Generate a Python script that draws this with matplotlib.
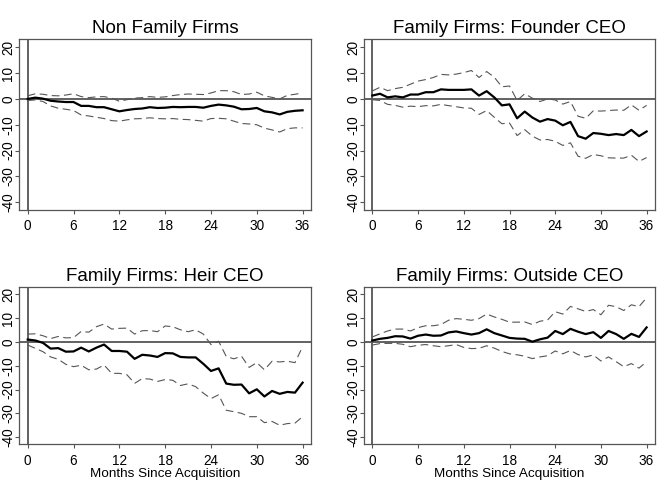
import matplotlib
matplotlib.use("Agg")
import matplotlib.pyplot as plt
import numpy as np

plt.rcParams['font.family'] = ['Liberation Sans', 'DejaVu Sans']

months = list(range(37))
titles = ["Non Family Firms", "Family Firms: Founder CEO",
          "Family Firms: Heir CEO", "Family Firms: Outside CEO"]
xticks = [0, 6, 12, 18, 24, 30, 36]
yticks = [-40, -30, -20, -10, 0, 10, 20]
xlabel = "Months Since Acquisition"

nonfam_est = [0, 0.5, 0.1, -0.7, -1.0, -1.2, -1.2, -2.7, -2.7, -3.2, -3.2, -4.0, -4.8,
              -4.3, -3.9, -3.7, -3.2, -3.5, -3.4, -3.1, -3.2, -3.1, -3.1, -3.4, -2.7,
              -2.2, -2.5, -3.0, -4.0, -3.9, -3.5, -4.8, -5.2, -6.0, -5.0, -4.6, -4.4]
nonfam_hi = [1.2, 2.0, 1.8, 1.3, 1.2, 1.5, 2.0, 0.9, 0.5, 0.8, 0.9, 0.3, -0.9,
             -0.3, 0.3, 0.5, 0.9, 0.6, 0.8, 1.3, 1.7, 1.9, 1.8, 1.7, 2.3,
             3.2, 3.2, 2.8, 1.7, 1.9, 2.6, 1.2, 0.6, 0.0, 1.4, 1.8, 2.3]
nonfam_lo = [-0.6, -0.4, -1.0, -2.7, -3.6, -4.0, -4.5, -6.2, -6.6, -7.1, -7.6, -8.4, -8.6,
             -8.1, -7.7, -7.6, -7.3, -7.6, -7.7, -7.6, -7.9, -8.0, -8.3, -8.6, -7.6,
             -7.5, -7.7, -8.6, -9.5, -9.7, -10.0, -11.3, -12.0, -12.8, -11.5, -11.2, -11.2]

founder_est = [1.3, 2.0, 0.6, 1.0, 0.6, 1.7, 1.7, 2.6, 2.6, 3.7, 3.5, 3.5, 3.5,
               3.7, 1.3, 3.0, 0.6, -2.5, -2.1, -7.5, -4.9, -7.2, -8.8, -7.8, -8.4,
               -10.2, -8.9, -14.4, -15.4, -13.2, -13.5, -14.0, -13.6, -14.0, -12.0, -14.4, -12.6]
founder_hi = [3.1, 4.5, 3.2, 4.0, 4.5, 5.7, 6.9, 7.5, 8.3, 9.5, 9.3, 9.6, 10.2,
              11.0, 8.3, 10.6, 8.4, 4.7, 5.0, -0.6, 2.0, 0.3, -1.0, 0.0, -0.4,
              -2.0, -1.0, -6.7, -7.5, -4.6, -4.7, -4.5, -4.3, -4.4, -2.3, -4.4, -2.5]
founder_lo = [-0.3, -0.6, -2.1, -2.5, -3.2, -2.8, -3.0, -2.6, -2.7, -2.1, -2.6, -3.0, -3.5,
              -3.6, -6.0, -4.5, -7.1, -9.6, -9.3, -14.2, -11.9, -14.4, -15.9, -15.7, -16.4,
              -18.0, -17.0, -22.2, -23.0, -21.5, -22.0, -22.8, -22.9, -22.9, -21.8, -24.2, -22.7]

heir_est = [1.0, 0.6, -0.4, -2.8, -2.6, -4.1, -4.0, -2.4, -4.0, -2.4, -1.1, -3.8, -3.8,
            -4.1, -7.1, -5.4, -5.7, -6.3, -4.7, -4.8, -6.3, -6.5, -6.5, -9.2, -12.2,
            -11.1, -17.5, -18.0, -17.9, -21.6, -19.9, -22.9, -20.6, -21.8, -21.0, -21.3, -17.1]
heir_hi = [3.3, 3.4, 2.6, 1.4, 2.3, 1.7, 1.8, 4.4, 4.1, 6.4, 7.5, 5.4, 5.7,
           5.8, 3.3, 4.7, 4.8, 4.3, 6.7, 6.4, 5.1, 4.3, 5.1, 3.3, -1.1,
           0.3, -6.1, -7.1, -6.0, -10.7, -8.7, -11.7, -8.1, -8.4, -8.1, -8.7, -2.0]
heir_lo = [-1.3, -2.7, -4.1, -6.3, -7.3, -9.4, -10.4, -9.8, -11.7, -11.4, -9.7, -13.2, -13.2,
           -13.8, -17.4, -15.4, -15.6, -16.6, -15.8, -16.1, -18.3, -17.6, -18.8, -21.5, -23.8,
           -22.2, -28.7, -29.3, -30.0, -31.4, -31.4, -33.9, -33.4, -35.0, -34.3, -34.1, -31.4]

outside_est = [0.6, 1.3, 1.7, 2.4, 2.3, 1.4, 2.6, 3.1, 2.6, 2.7, 4.0, 4.4, 3.7,
               3.1, 3.7, 5.3, 3.7, 2.7, 1.7, 1.4, 1.3, 0.1, 1.1, 1.8, 4.6,
               3.3, 5.5, 4.3, 3.3, 4.1, 1.7, 4.6, 3.3, 1.3, 3.4, 2.1, 6.1]
outside_hi = [2.1, 3.4, 4.6, 5.4, 5.4, 4.6, 6.0, 6.8, 6.8, 7.3, 9.1, 9.8, 9.5,
              9.1, 9.8, 11.7, 10.5, 9.5, 8.3, 8.3, 8.4, 7.3, 8.7, 9.2, 12.7,
              11.7, 14.9, 13.9, 12.8, 13.6, 11.4, 15.4, 14.8, 13.2, 15.6, 14.8, 18.6]
outside_lo = [-1.3, -0.7, -0.6, -0.6, -1.0, -2.0, -1.4, -1.1, -1.6, -2.0, -1.6, -1.1, -2.3,
              -2.8, -2.7, -1.6, -2.6, -4.0, -5.0, -5.4, -6.0, -7.0, -6.3, -5.8, -3.8,
              -5.0, -3.6, -5.3, -6.3, -5.5, -8.0, -6.3, -8.3, -10.4, -9.1, -11.0, -8.3]

series = [(nonfam_est, nonfam_hi, nonfam_lo),
          (founder_est, founder_hi, founder_lo),
          (heir_est, heir_hi, heir_lo),
          (outside_est, outside_hi, outside_lo)]

W, H = 660, 498
fig = plt.figure(figsize=(W / 100, H / 100), dpi=100)
fig.patch.set_facecolor('white')

boxes = [(19.3, 39, 311, 210), (364, 39, 655, 210),
         (19.3, 286.7, 311, 444.3), (364, 286.7, 655, 444.3)]

spine_c = '#555555'
for i, (box, title, (est, hi, lo)) in enumerate(zip(boxes, titles, series)):
    x0, y0, x1, y1 = box
    ax = fig.add_axes([x0 / W, 1 - y1 / H, (x1 - x0) / W, (y1 - y0) / H])
    ax.set_xlim(-1.1, 37.1)
    ax.set_ylim(-43, 23.2)
    ax.axhline(0, color='#555555', lw=1.3, zorder=1)
    ax.axvline(0, color='#555555', lw=1.3, zorder=1)
    for band in (hi, lo):
        ln, = ax.plot(months, band, color='#555555', lw=0.8, zorder=2)
        ln.set_dashes((7, 4))
    ax.plot(months, est, color='black', lw=1.6, zorder=3)
    ax.set_xticks(xticks)
    ax.set_yticks(yticks)
    ax.set_xticklabels([str(t) for t in xticks], fontsize=9.8)
    ax.set_yticklabels([str(t) for t in yticks], fontsize=9.8, rotation=90, va='center')
    ax.tick_params(direction='out', length=3.1, width=0.8, color=spine_c)
    ax.tick_params(axis='x', pad=3.7)
    ax.tick_params(axis='y', pad=-0.3)
    for s in ax.spines.values():
        s.set_color(spine_c)
        s.set_linewidth(0.9)
    ax.set_title(title, fontsize=13.5, pad=4)
    if i >= 2:
        ax.set_xlabel(xlabel, fontsize=9.7, labelpad=0)

fig.savefig('out.png', dpi=100, facecolor='white')
